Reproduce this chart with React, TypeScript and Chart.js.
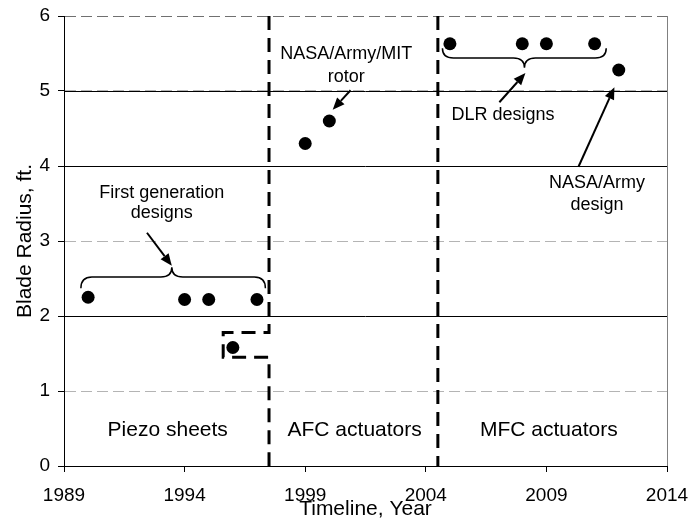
import React, { useEffect, useRef } from "react";
import { Chart, registerables } from "chart.js";
Chart.register(...registerables);

// ---- data ----
const years = [1990, 1994, 1995, 1996, 1997, 1999, 2000, 2005, 2008, 2009, 2011, 2012];
const bladeRadius = [2.25, 2.22, 2.22, 1.58, 2.22, 4.3, 4.6, 5.63, 5.63, 5.63, 5.63, 5.28];
const xMin = 1989;
const xMax = 2014;
const xStep = 5;
const yMin = 0;
const yMax = 6;
const yStep = 1;
const solidGridValues = [2, 4, 5];
const dividerAX = [1997.5, 1997.5, 1995.6, 1995.6, 1997.5, 1997.5];
const dividerAY = [6, 1.78, 1.78, 1.45, 1.45, 0];
const dividerBX = [2004.5, 2004.5];
const dividerBY = [6, 0];
const phaseLabels = ["Piezo sheets", "AFC actuators", "MFC actuators"];
const phaseCenters = [1993.3, 2001.05, 2009.1];
const phaseLabelY = 0.48;

// annotation texts (data coordinates)
const noteTexts = [
  { lines: ["First generation", "designs"], x: 1993.05, y: [3.64, 3.37] },
  { lines: ["NASA/Army/MIT", "rotor"], x: 2000.7, y: [5.49, 5.19] },
  { lines: ["DLR designs"], x: 2007.2, y: [4.68] },
  { lines: ["NASA/Army", "design"], x: 2011.1, y: [3.77, 3.48] },
];
const arrows = [
  { from: [1992.44, 3.11], to: [1993.47, 2.67] },
  { from: [2000.88, 5.01], to: [2000.14, 4.75] },
  { from: [2007.05, 4.85], to: [2008.13, 5.24] },
  { from: [2010.33, 3.99], to: [2011.82, 5.05] },
];
const braces = [
  { x1: 1989.7, x2: 1997.35, xm: 1993.47, yEnd: 2.37, yH: 2.52, yCusp: 2.65 },
  { x1: 2004.69, x2: 2011.48, xm: 2008.09, yEnd: 5.57, yH: 5.44, yCusp: 5.31 },
];

const FONT = "Arial, 'Liberation Sans', sans-serif";
const FS_NOTE = 18;
const FS_PHASE = 21;
const FS_TICK = 19;
const FS_TITLE = 21;

const annotationPlugin = {
  id: "annotations",
  beforeDatasetsDraw(chart: any) {
    const { ctx, chartArea, scales } = chart;
    const y = scales.y;
    ctx.save();
    ctx.strokeStyle = "#000";
    ctx.lineWidth = 1;
    solidGridValues.forEach((v) => {
      const py = Math.round(y.getPixelForValue(v)) + 0.5;
      ctx.beginPath();
      ctx.moveTo(chartArea.left, py);
      ctx.lineTo(chartArea.right, py);
      ctx.stroke();
    });
    // right border
    ctx.strokeStyle = "#808080";
    ctx.beginPath();
    ctx.moveTo(Math.round(chartArea.right) + 0.5, chartArea.top);
    ctx.lineTo(Math.round(chartArea.right) + 0.5, chartArea.bottom);
    ctx.stroke();
    ctx.restore();
  },
  afterDatasetsDraw(chart: any) {
    const { ctx, scales } = chart;
    const X = (v: number) => scales.x.getPixelForValue(v);
    const Y = (v: number) => scales.y.getPixelForValue(v);
    ctx.save();
    ctx.fillStyle = "#000";
    ctx.strokeStyle = "#000";
    ctx.textAlign = "center";
    ctx.textBaseline = "middle";
    ctx.font = `${FS_PHASE}px ${FONT}`;
    phaseLabels.forEach((t, i) => ctx.fillText(t, X(phaseCenters[i]), Y(phaseLabelY)));
    ctx.font = `${FS_NOTE}px ${FONT}`;
    noteTexts.forEach((n) => n.lines.forEach((t, i) => ctx.fillText(t, X(n.x), Y(n.y[i]))));
    // braces
    ctx.lineWidth = 1.5;
    braces.forEach((b) => {
      const x1 = X(b.x1), x2 = X(b.x2), xm = X(b.xm);
      const ye = Y(b.yEnd), yh = Y(b.yH), yc = Y(b.yCusp);
      const r = 11;
      ctx.beginPath();
      ctx.moveTo(x1, ye);
      ctx.quadraticCurveTo(x1, yh, x1 + r, yh);
      ctx.lineTo(xm - r, yh);
      ctx.quadraticCurveTo(xm, yh, xm, yc);
      ctx.quadraticCurveTo(xm, yh, xm + r, yh);
      ctx.lineTo(x2 - r, yh);
      ctx.quadraticCurveTo(x2, yh, x2, ye);
      ctx.stroke();
    });
    // arrows
    arrows.forEach((a) => {
      const fx = X(a.from[0]), fy = Y(a.from[1]);
      const tx = X(a.to[0]), ty = Y(a.to[1]);
      const ang = Math.atan2(ty - fy, tx - fx);
      const hl = 12, hw = 5;
      const bx = tx - hl * Math.cos(ang), by = ty - hl * Math.sin(ang);
      ctx.lineWidth = 2;
      ctx.beginPath();
      ctx.moveTo(fx, fy);
      ctx.lineTo(bx, by);
      ctx.stroke();
      ctx.beginPath();
      ctx.moveTo(tx, ty);
      ctx.lineTo(bx + hw * Math.sin(ang), by - hw * Math.cos(ang));
      ctx.lineTo(bx - hw * Math.sin(ang), by + hw * Math.cos(ang));
      ctx.closePath();
      ctx.fill();
    });
    ctx.restore();
  },
};

export default function App() {
  const ref = useRef<HTMLCanvasElement | null>(null);
  useEffect(() => {
    if (!ref.current) return;
    const pts = years.map((x, i) => ({ x, y: bladeRadius[i] }));
    const divA = dividerAX.map((x, i) => ({ x, y: dividerAY[i] }));
    const divB = dividerBX.map((x, i) => ({ x, y: dividerBY[i] }));
    const dividerStyle = {
      type: "line" as const,
      showLine: true,
      borderColor: "#000",
      borderWidth: 3,
      borderDash: [14, 8],
      pointRadius: 0,
      fill: false,
      tension: 0,
      borderCapStyle: "butt" as const,
      borderJoinStyle: "miter" as const,
    };
    const chart = new Chart(ref.current, {
      type: "scatter",
      data: {
        datasets: [
          { ...dividerStyle, data: divA, order: 2 },
          { ...dividerStyle, data: divB, order: 2 },
          {
            type: "scatter",
            data: pts,
            pointRadius: 6.5,
            pointBackgroundColor: "#000",
            pointBorderColor: "#000",
            pointBorderWidth: 0,
            order: 1,
          },
        ] as any,
      },
      options: {
        responsive: false,
        animation: false,
        layout: { padding: { top: 16, right: 24, left: 0, bottom: 0 } },
        plugins: { legend: { display: false }, tooltip: { enabled: false } },
        scales: {
          x: {
            type: "linear",
            min: xMin,
            max: xMax,
            ticks: {
              stepSize: xStep,
              callback: (v: any) => String(v),
              color: "#000",
              font: { family: FONT, size: FS_TICK },
              padding: 12,
              maxRotation: 0,
              autoSkip: false,
            },
            grid: { drawOnChartArea: false, drawTicks: true, tickLength: 6, tickColor: "#000" },
            border: { color: "#000", width: 1 },
            title: {
              display: true,
              text: "Timeline, Year",
              color: "#000",
              font: { family: FONT, size: FS_TITLE, lineHeight: 1 },
              padding: { top: 0, bottom: 0 },
            },
            afterFit: (s: any) => {
              s.height = 54;
              s.paddingLeft = 0;
              s.paddingRight = 0;
            },
          },
          y: {
            type: "linear",
            min: yMin,
            max: yMax,
            ticks: {
              stepSize: yStep,
              color: "#000",
              font: { family: FONT, size: FS_TICK },
              padding: 8,
            },
            grid: {
              color: (c: any) => (c.tick && c.tick.value === yMax ? "#707070" : "#b4b4b4"),
              lineWidth: 1,
              drawTicks: true,
              tickLength: 6,
              tickColor: "#000",
            },
            border: { color: "#000", width: 1, dash: [11, 5] },
            title: {
              display: true,
              text: "Blade Radius, ft.",
              color: "#000",
              font: { family: FONT, size: FS_TITLE, lineHeight: 1 },
              padding: { top: 14.5, bottom: 0 },
            },
            afterFit: (s: any) => {
              s.width = 64;
              s.paddingTop = 0;
              s.paddingBottom = 0;
            },
          },
        },
      } as any,
      plugins: [annotationPlugin],
    });
    return () => chart.destroy();
  }, []);
  return (
    <div style={{ position: "absolute", left: 0, top: 0, width: 691, height: 520, background: "#fff" }}>
      <canvas ref={ref} width={691} height={520} style={{ width: 691, height: 520, display: "block" }} />
    </div>
  );
}
